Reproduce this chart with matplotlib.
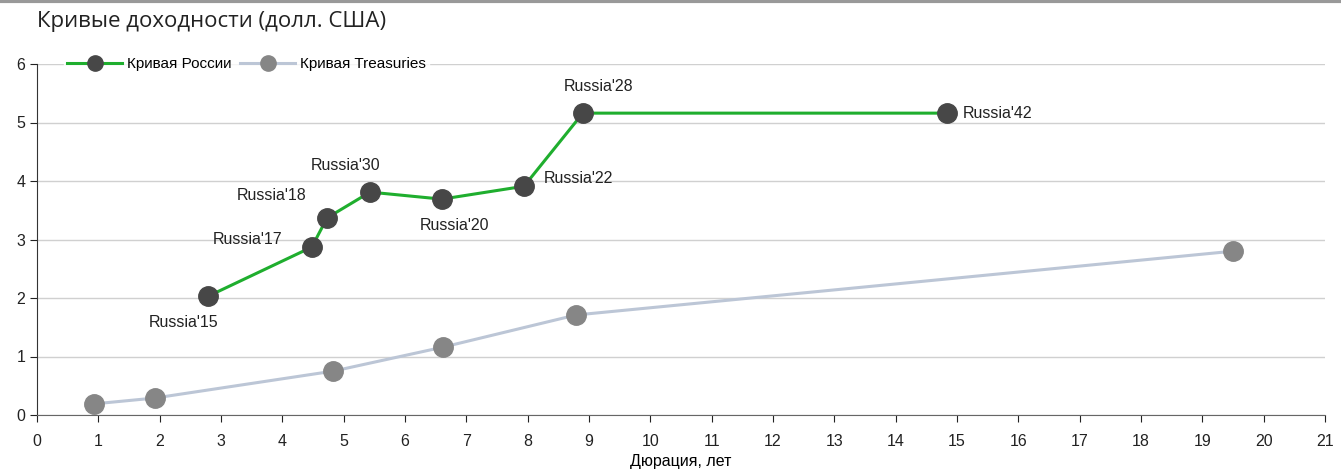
import matplotlib.pyplot as plt
from matplotlib.lines import Line2D

plt.rcParams['font.family'] = ['Liberation Sans', 'DejaVu Sans']

# Russia Eurobond curve
rus_dur = [2.79, 4.48, 4.73, 5.43, 6.60, 7.94, 8.90, 14.84]
rus_yld = [2.03, 2.87, 3.37, 3.81, 3.69, 3.91, 5.16, 5.16]
rus_names = ["Russia'15", "Russia'17", "Russia'18", "Russia'30",
             "Russia'20", "Russia'22", "Russia'28", "Russia'42"]

# US Treasuries curve
ust_dur = [0.93, 1.92, 4.83, 6.62, 8.79, 19.50]
ust_yld = [0.19, 0.29, 0.75, 1.16, 1.71, 2.80]

x_ticks = list(range(0, 22))
y_ticks = list(range(0, 7))

green = '#1fae2e'
dark = '#474747'
lightline = '#bcc6d6'
grey = '#868686'

fig = plt.figure(figsize=(13.41, 4.70), dpi=100)
ax = fig.add_axes([37 / 1341, 55 / 470, 1288 / 1341, 351 / 470])

ax.plot(ust_dur, ust_yld, color=lightline, lw=2.2, marker='o', ms=14,
        mfc=grey, mec=grey, zorder=3)
ax.plot(rus_dur, rus_yld, color=green, lw=2.2, marker='o', ms=14,
        mfc=dark, mec=dark, zorder=4)

# label centre offsets from the point, in pixels
offsets = [(-25, -26), (-64, 8), (-55, 22), (-24, 27),
           (13, -26), (54, 8), (16, 27), (50, 0)]
for x, y, name, off in zip(rus_dur, rus_yld, rus_names, offsets):
    ax.annotate(name, (x, y), xytext=off, textcoords='offset pixels',
                ha='center', va='center', fontsize=11.5, color='#222222')

ax.set_xlim(0, 21)
ax.set_ylim(0, 6)
ax.set_xticks(x_ticks)
ax.set_yticks(y_ticks)
ax.tick_params(labelsize=11.5, colors='#222222', length=5, direction='out')
ax.tick_params(axis='x', pad=9)
ax.grid(axis='y', color='#d0d0d0', lw=1)
ax.set_axisbelow(True)
for s in ['top', 'right']:
    ax.spines[s].set_visible(False)
ax.spines['left'].set_color('#333333')
ax.spines['bottom'].set_color('#666666')

ax.set_xlabel('Дюрация, лет', fontsize=11.5, labelpad=3)

handles = [
    Line2D([], [], color=green, lw=2.2, marker='o', ms=11, mfc=dark, mec=dark),
    Line2D([], [], color=lightline, lw=2.2, marker='o', ms=11, mfc=grey, mec=grey),
]
leg = ax.legend(handles, ['Кривая России', 'Кривая Treasuries'], loc='center left',
                bbox_to_anchor=(0.015, 1.0), ncol=2, frameon=True, fontsize=11,
                handlelength=3.6, columnspacing=0.6, handletextpad=0.3,
                borderpad=0.2, fancybox=False)
leg.get_frame().set_edgecolor('white')
leg.get_frame().set_facecolor('white')

fig.text(37 / 1341, 1 - 22 / 470, 'Кривые доходности (долл. США)',
         fontsize=16, va='center', ha='left', color='#222222',
         family=['Open Sans', 'DejaVu Sans'])
fig.add_artist(Line2D([0, 1], [0.997, 0.997], color='#999999', lw=3,
                      transform=fig.transFigure))

fig.savefig('out.png', dpi=100)
